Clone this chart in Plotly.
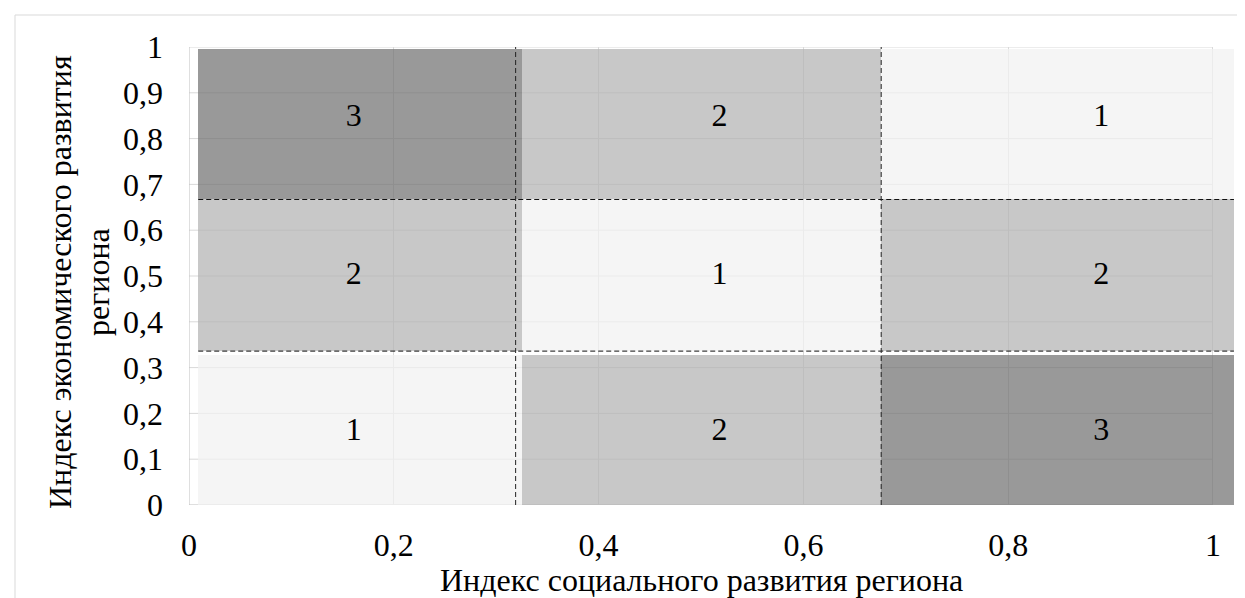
import plotly.graph_objects as go

# ---- data ----
col_left = [0.009, 0.3255, 0.676]
col_right = [0.3255, 0.676, 1.0205]
row_bottom = [0.0, 0.336, 0.668]
row_top = [0.328, 0.668, 0.996]
# zone number of each cell: rows bottom -> top, columns left -> right
zones = [[1, 2, 3],
         [2, 1, 2],
         [3, 2, 1]]
label_x = [0.161, 0.518, 0.891]
label_y = [0.16, 0.5, 0.845]

h_dash_y = [0.336, 0.667]
h_dash_x = [0.009, 1.0205]
v_dash_x = [0.319, 0.676]
v_dash_y = [0.0, 1.0]

x_ticks = [0, 0.2, 0.4, 0.6, 0.8, 1.0]
y_ticks = [0, 0.1, 0.2, 0.3, 0.4, 0.5, 0.6, 0.7, 0.8, 0.9, 1.0]

x_title = "Индекс социального развития региона"
y_title_lines = ["Индекс экономического развития", "региона"]

zone_colors = {1: "rgba(241,241,241,0.72)",
               2: "rgba(179,179,179,0.72)",
               3: "rgba(113,113,113,0.72)"}

FONT = "Liberation Serif, Times New Roman, serif"
FS = 32

fig = go.Figure()

# cells
bx, bw, bb, bh, bc = [], [], [], [], []
tx, ty, tt = [], [], []
for r in range(3):
    for c in range(3):
        bx.append((col_left[c] + col_right[c]) / 2)
        bw.append(col_right[c] - col_left[c])
        bb.append(row_bottom[r])
        bh.append(row_top[r] - row_bottom[r])
        bc.append(zone_colors[zones[r][c]])
        tx.append(label_x[c])
        ty.append(label_y[r])
        tt.append(str(zones[r][c]))

fig.add_trace(go.Bar(x=bx, y=bh, base=bb, width=bw,
                     marker=dict(color=bc, line=dict(width=0)),
                     hoverinfo="skip", showlegend=False))

# dashed separators
for yv in h_dash_y:
    fig.add_trace(go.Scatter(x=h_dash_x, y=[yv, yv], mode="lines",
                             line=dict(color="#111111", width=1, dash="5px,3px"),
                             hoverinfo="skip", showlegend=False))
for xv in v_dash_x:
    fig.add_trace(go.Scatter(x=[xv, xv], y=v_dash_y, mode="lines",
                             line=dict(color="#222222", width=1, dash="5px,3px"),
                             hoverinfo="skip", showlegend=False))

# zone labels
fig.add_trace(go.Scatter(x=tx, y=ty, mode="text", text=tt,
                         textposition="middle center",
                         textfont=dict(family=FONT, size=FS, color="black"),
                         hoverinfo="skip", showlegend=False))

L, R, T, B = 181, 17, 39, 101
W, H = 1245, 598
pw, ph = W - L - R, H - T - B

shapes = []
for yv in y_ticks[1:]:
    shapes.append(dict(type="line", xref="x", yref="y", x0=0, x1=1, y0=yv, y1=yv,
                       line=dict(color="#d9d9d9", width=1), layer="below"))
shapes.append(dict(type="line", xref="x", yref="y", x0=0, x1=0, y0=0, y1=1,
                   line=dict(color="#bfbfbf", width=1), layer="below"))
shapes.append(dict(type="line", xref="x", yref="y", x0=0, x1=1, y0=0, y1=0,
                   line=dict(color="#bfbfbf", width=1), layer="below"))
# chart area border
shapes.append(dict(type="rect", xref="paper", yref="paper",
                   x0=(7 - L) / pw, x1=(1240 - L) / pw,
                   y0=(H - B - 620) / ph, y1=(H - B - 7) / ph,
                   line=dict(color="#d9d9d9", width=1), fillcolor="rgba(0,0,0,0)",
                   layer="below"))

annotations = [
    dict(text=x_title, xref="paper", yref="paper",
         x=(693 - L) / pw, y=(H - B - 572) / ph,
         xanchor="center", yanchor="middle", showarrow=False,
         font=dict(family=FONT, size=FS, color="black")),
]
for line_text, px in zip(y_title_lines, [52, 90]):
    annotations.append(dict(text=line_text, xref="paper", yref="paper",
                            x=(px - L) / pw, y=(H - B - 274) / ph,
                            xanchor="center", yanchor="middle", showarrow=False,
                            textangle=-90,
                            font=dict(family=FONT, size=FS, color="black")))

fig.update_layout(
    width=W, height=H,
    margin=dict(l=L, r=R, t=T, b=B),
    paper_bgcolor="white", plot_bgcolor="white",
    barmode="overlay", bargap=0,
    separators=", ",
    font=dict(family=FONT, size=FS, color="black"),
    shapes=shapes,
    xaxis=dict(range=[0, 1.0225], tickvals=x_ticks, showgrid=True,
               gridcolor="#d9d9d9", gridwidth=1, zeroline=False, showline=False,
               ticks="", ticklabelstandoff=18,
               tickfont=dict(family=FONT, size=FS, color="black")),
    yaxis=dict(range=[0, 1], tickvals=y_ticks, showgrid=False, zeroline=False,
               showline=False, ticks="", ticklabelstandoff=25,
               tickfont=dict(family=FONT, size=FS, color="black")),
    annotations=annotations,
)

fig.write_html("out.html")
